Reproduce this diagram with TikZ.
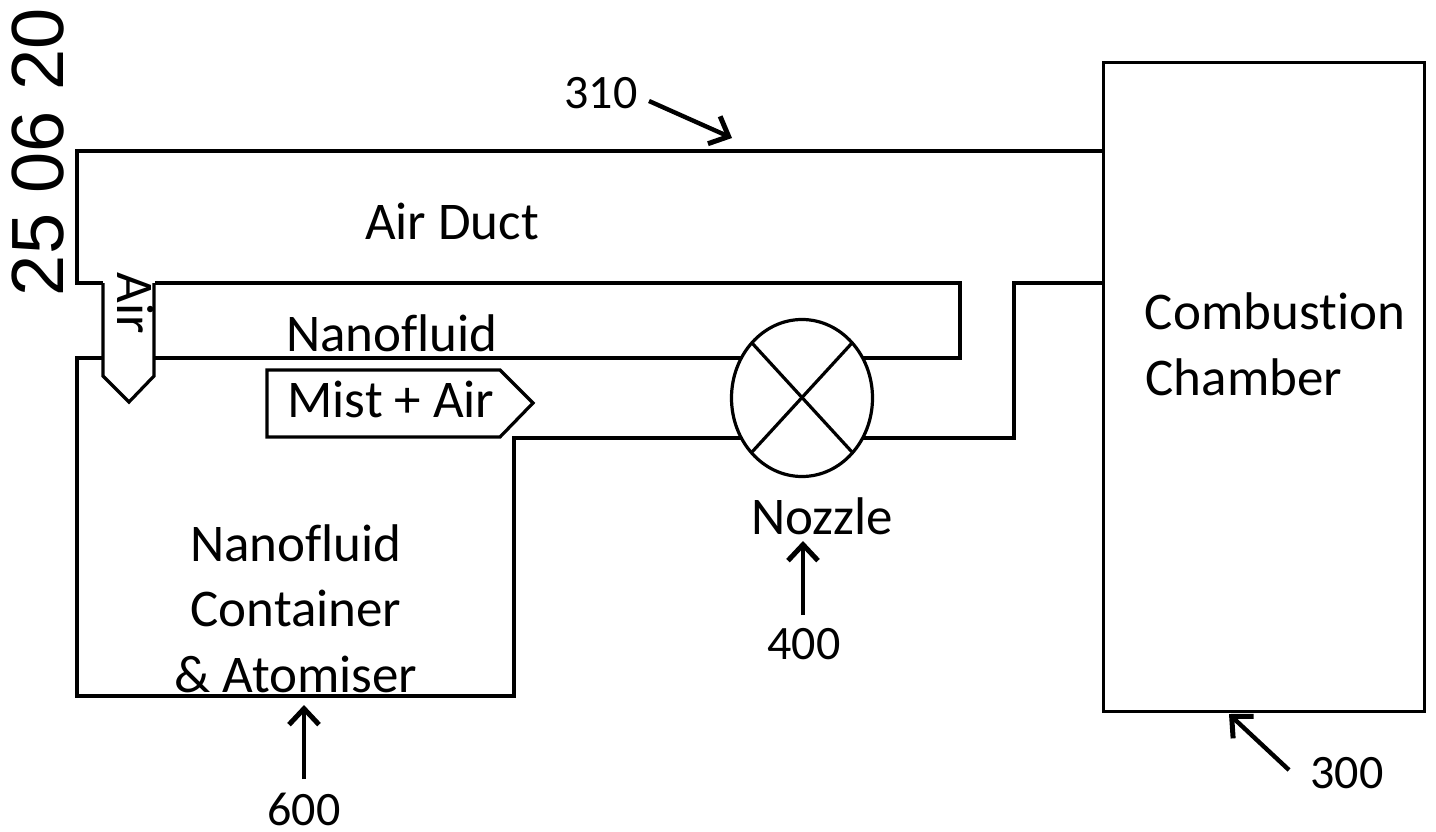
\documentclass[tikz,border=0pt]{standalone}
\usepackage{fontspec}
\setmainfont[Ligatures={NoCommon}]{Carlito}
\newfontfamily\stampfont{Liberation Sans}
\usetikzlibrary{arrows.meta,shapes.geometric}
\tikzset{
 wall/.style={line width=3.2pt,line join=miter},
 lab/.style={font=\fontsize{53}{53}\selectfont,inner sep=0pt,text=black},
 num/.style={font=\fontsize{48}{48}\selectfont,inner sep=0pt},
 ptr/.style={line width=4.4pt,-{Straight Barb[length=16pt,width=30pt,line width=5pt]}}
}
\begin{document}
\begin{tikzpicture}[x=1pt,y=-1pt]
\useasboundingbox (0,0) rectangle (1436,832);
\coordinate (d1) at (1103,151);
\coordinate (d2) at (77,151);
\coordinate (d3) at (77,283);
\coordinate (d4) at (103,283);
\coordinate (d5) at (155,283);
\coordinate (d6) at (960,283);
\coordinate (d7) at (960,358);
\coordinate (d8) at (862,358);
\coordinate (c1) at (742,358);
\coordinate (c2) at (155,358);
\coordinate (c3) at (103,358);
\coordinate (c4) at (77,358);
\coordinate (c5) at (77,696);
\coordinate (c6) at (514,696);
\coordinate (c7) at (514,438);
\coordinate (c8) at (742,438);
\coordinate (n1) at (862,438);
\coordinate (n2) at (1014,438);
\coordinate (n3) at (1014,283);
\coordinate (n4) at (1103,283);
\draw[wall] (d1)--(d2)--(d3)--(d4);
\draw[wall] (d5)--(d6)--(d7)--(d8);
\draw[wall] (c1)--(c2);
\draw[wall] (c3)--(c4)--(c5)--(c6)--(c7)--(c8);
\draw[wall] (n1)--(n2)--(n3)--(n4);
\node[draw,line width=3.2pt,outer sep=0pt,minimum width=321pt,minimum height=649pt,inner sep=0pt,anchor=north west] (chamber) at (1103.5,62.5) {};
\draw[wall] (103,283)--(103,376)--(129,402)--(154,376)--(154,283);
\draw[wall] (267,370)--(500,370)--(533,403)--(500,437)--(267,437)--cycle;
\node[draw,line width=3.2pt,outer sep=0pt,ellipse,minimum width=141pt,minimum height=157pt,inner sep=0pt] (noz) at (802,398) {};
\draw[wall] (752,343)--(852,452);
\draw[wall] (852,343)--(752,452);
\node[lab] (ad) at (452,221) {Air Duct};
\node[lab] (nf) at (392,333) {Nanofluid};
\node[lab] (ma) at (391,399) {Mist + Air};
\node[lab,rotate=-90] (air) at (136,303) {Air};
\node[lab] (nz) at (822,516) {Nozzle};
\node[lab] (n1l) at (296,543) {Nanofluid};
\node[lab] (n2l) at (296,608) {Container};
\node[lab] (n3l) at (296,674) {\&~Atomiser};
\node[lab] (cc1) at (1275,311) {Combustion};
\node[lab] (cc2) at (1244,377) {Chamber};
\node[num] (t310) at (601,93) {310};
\node[num] (t400) at (804,644) {400};
\node[num] (t600) at (304,809) {600};
\node[num] (t300) at (1347,773) {300};
\coordinate (a310) at (732,138);
\coordinate (a400) at (803,541);
\coordinate (a600) at (304,705);
\coordinate (a300) at (1229,714);
\draw[ptr] (649,101)--(a310);
\draw[ptr] (803,615)--(a400);
\draw[ptr] (304,779)--(a600);
\draw[ptr] (1289,770)--(a300);
\node[font=\stampfont\fontsize{74}{74}\selectfont,rotate=90,inner sep=0pt] (stamp) at (38,152) {25 06 20};
\end{tikzpicture}
\end{document}
